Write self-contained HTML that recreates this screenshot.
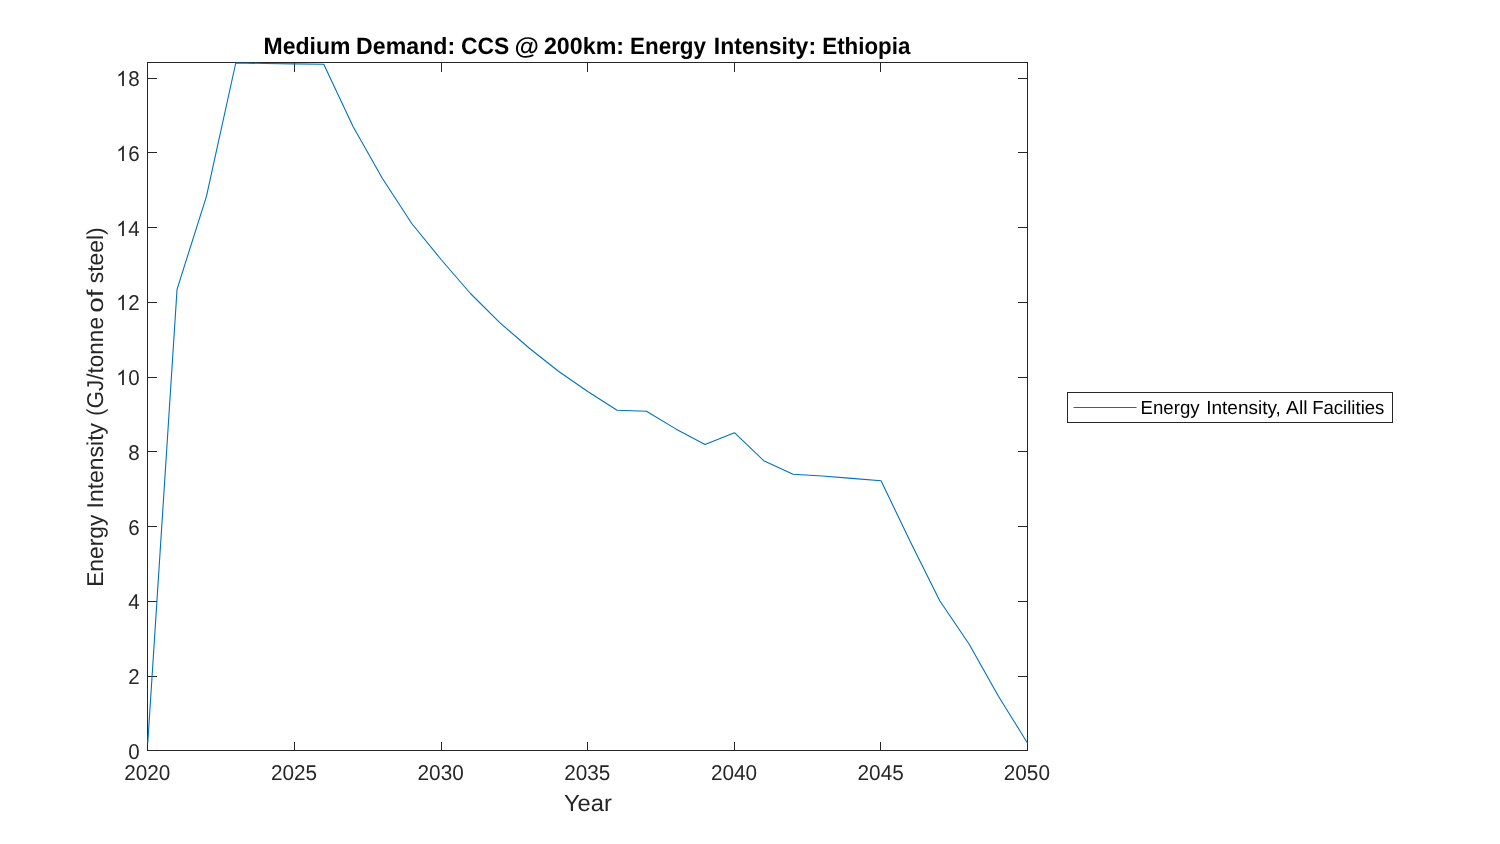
<!DOCTYPE html>
<html><head><meta charset="utf-8"><title>Energy Intensity</title>
<style>
html,body{margin:0;padding:0;background:#fff;}
body{width:1500px;height:844px;overflow:hidden;position:relative;font-family:"Liberation Sans",sans-serif;}
#fig{position:absolute;left:0;top:0;width:1500px;height:844px;will-change:transform;background:#fff;}
svg{position:absolute;left:0;top:0;display:block;}
text{font-family:"Liberation Sans",sans-serif;white-space:pre;text-rendering:geometricPrecision;}
</style></head><body>
<div id="fig">
<svg width="1500" height="844" viewBox="0 0 1500 844">
<rect x="0" y="0" width="1500" height="844" fill="#ffffff"/>
<!-- axes box and ticks -->
<g fill="#262626" shape-rendering="crispEdges">
<rect x="147" y="62" width="881" height="1"/><rect x="147" y="750" width="881" height="1"/><rect x="147" y="62" width="1" height="689"/><rect x="1027" y="62" width="1" height="689"/>
<rect x="294" y="742" width="1" height="8"/><rect x="294" y="63" width="1" height="9"/>
<rect x="441" y="742" width="1" height="8"/><rect x="441" y="63" width="1" height="9"/>
<rect x="587" y="742" width="1" height="8"/><rect x="587" y="63" width="1" height="9"/>
<rect x="734" y="742" width="1" height="8"/><rect x="734" y="63" width="1" height="9"/>
<rect x="880" y="742" width="1" height="8"/><rect x="880" y="63" width="1" height="9"/>
<rect x="148" y="676" width="9" height="1"/><rect x="1018" y="676" width="9" height="1"/>
<rect x="148" y="601" width="9" height="1"/><rect x="1018" y="601" width="9" height="1"/>
<rect x="148" y="526" width="9" height="1"/><rect x="1018" y="526" width="9" height="1"/>
<rect x="148" y="451" width="9" height="1"/><rect x="1018" y="451" width="9" height="1"/>
<rect x="148" y="377" width="9" height="1"/><rect x="1018" y="377" width="9" height="1"/>
<rect x="148" y="302" width="9" height="1"/><rect x="1018" y="302" width="9" height="1"/>
<rect x="148" y="227" width="9" height="1"/><rect x="1018" y="227" width="9" height="1"/>
<rect x="148" y="152" width="9" height="1"/><rect x="1018" y="152" width="9" height="1"/>
<rect x="148" y="78" width="9" height="1"/><rect x="1018" y="78" width="9" height="1"/>
</g>
<!-- data line -->
<clipPath id="ax"><rect x="147" y="62" width="881" height="689"/></clipPath>
<path clip-path="url(#ax)" d="M147.75 743.2 L177.05 289.3 L206.45 196.4 L235.75 63.0 L265.05 63.5 L294.45 63.9 L323.75 64.3 L353.05 126.4 L382.45 178.5 L411.75 223.5 L441.05 259.5 L470.45 293.5 L499.75 322.7 L529.05 348.0 L558.45 371.2 L587.75 391.5 L617.05 410.3 L646.45 411.3 L675.75 428.9 L705.05 444.4 L734.45 432.7 L763.75 460.7 L793.05 474.2 L822.45 476.0 L851.75 478.4 L881.05 480.8 L910.45 541.9 L939.75 600.7 L969.05 644.0 L998.45 696.2 L1027.60 743.3" fill="none" stroke="#0072BD" stroke-width="1.1" stroke-linejoin="round"/>
<!-- tick labels -->
<g>
<text transform="translate(124.21,780.00) scale(1.0375,1.0700)" text-anchor="start" font-size="20px" fill="#262626">2020</text>
<text transform="translate(270.88,780.00) scale(1.0375,1.0700)" text-anchor="start" font-size="20px" fill="#262626">2025</text>
<text transform="translate(417.55,780.00) scale(1.0375,1.0700)" text-anchor="start" font-size="20px" fill="#262626">2030</text>
<text transform="translate(564.21,780.00) scale(1.0375,1.0700)" text-anchor="start" font-size="20px" fill="#262626">2035</text>
<text transform="translate(710.88,780.00) scale(1.0375,1.0700)" text-anchor="start" font-size="20px" fill="#262626">2040</text>
<text transform="translate(857.55,780.00) scale(1.0375,1.0700)" text-anchor="start" font-size="20px" fill="#262626">2045</text>
<text transform="translate(1003.76,780.00) scale(1.0375,1.0700)" text-anchor="start" font-size="20px" fill="#262626">2050</text>
<text transform="translate(139.60,759.10) scale(1.0250,1.0700)" text-anchor="end" font-size="20px" fill="#262626">0</text>
<text transform="translate(139.60,684.10) scale(1.0250,1.0700)" text-anchor="end" font-size="20px" fill="#262626">2</text>
<text transform="translate(139.60,609.10) scale(1.0250,1.0700)" text-anchor="end" font-size="20px" fill="#262626">4</text>
<text transform="translate(139.60,535.10) scale(1.0250,1.0700)" text-anchor="end" font-size="20px" fill="#262626">6</text>
<text transform="translate(139.60,460.10) scale(1.0250,1.0700)" text-anchor="end" font-size="20px" fill="#262626">8</text>
<text transform="translate(139.60,385.10) scale(1.0250,1.0700)" text-anchor="end" font-size="20px" fill="#262626">0</text>
<path transform="translate(116.25,385.10) scale(0.010010,-0.010449)" d="M763 0H583V1147Q518 1085 412.5 1023T223 930V1104Q373 1174.5 485.5 1275T645 1470H763Z" fill="#262626"/>
<text transform="translate(139.60,310.10) scale(1.0250,1.0700)" text-anchor="end" font-size="20px" fill="#262626">2</text>
<path transform="translate(116.25,310.10) scale(0.010010,-0.010449)" d="M763 0H583V1147Q518 1085 412.5 1023T223 930V1104Q373 1174.5 485.5 1275T645 1470H763Z" fill="#262626"/>
<text transform="translate(139.60,236.10) scale(1.0250,1.0700)" text-anchor="end" font-size="20px" fill="#262626">4</text>
<path transform="translate(116.25,236.10) scale(0.010010,-0.010449)" d="M763 0H583V1147Q518 1085 412.5 1023T223 930V1104Q373 1174.5 485.5 1275T645 1470H763Z" fill="#262626"/>
<text transform="translate(139.60,161.10) scale(1.0250,1.0700)" text-anchor="end" font-size="20px" fill="#262626">6</text>
<path transform="translate(116.25,161.10) scale(0.010010,-0.010449)" d="M763 0H583V1147Q518 1085 412.5 1023T223 930V1104Q373 1174.5 485.5 1275T645 1470H763Z" fill="#262626"/>
<text transform="translate(139.60,86.10) scale(1.0250,1.0700)" text-anchor="end" font-size="20px" fill="#262626">8</text>
<path transform="translate(116.25,86.10) scale(0.010010,-0.010449)" d="M763 0H583V1147Q518 1085 412.5 1023T223 930V1104Q373 1174.5 485.5 1275T645 1470H763Z" fill="#262626"/>
</g>
<!-- axis labels, title -->
<text transform="translate(563.96,810.80) scale(1.0797,1.0600)" text-anchor="start" font-size="22px" fill="#262626">Year</text>
<text transform="translate(103.00,586.81) rotate(-90) scale(1.0343,1.0400)" text-anchor="start" font-size="22px" fill="#262626">Energy</text>
<text transform="translate(103.00,508.49) rotate(-90) scale(1.0441,1.0400)" text-anchor="start" font-size="22px" fill="#262626">Intensity</text>
<text transform="translate(103.00,416.01) rotate(-90) scale(1.0239,1.0400)" text-anchor="start" font-size="22px" fill="#262626">(GJ/tonne</text>
<text transform="translate(103.00,312.81) rotate(-90) scale(1.2743,1.0400)" text-anchor="start" font-size="22px" fill="#262626">of</text>
<text transform="translate(103.00,283.25) rotate(-90) scale(1.0396,1.0400)" text-anchor="start" font-size="22px" fill="#262626">steel)</text>
<text transform="translate(263.53,53.80) scale(1.0455,1.0750)" text-anchor="start" font-size="22px" font-weight="bold" fill="#000000">Medium</text>
<text transform="translate(356.12,53.80) scale(1.0519,1.0750)" text-anchor="start" font-size="22px" font-weight="bold" fill="#000000">Demand:</text>
<text transform="translate(460.99,53.80) scale(1.0391,1.0750)" text-anchor="start" font-size="22px" font-weight="bold" fill="#000000">CCS</text>
<text transform="translate(514.38,53.80) scale(1.1391,1.0750)" text-anchor="start" font-size="22px" font-weight="bold" fill="#000000">@</text>
<text transform="translate(543.91,53.80) scale(1.0575,1.0750)" text-anchor="start" font-size="22px" font-weight="bold" fill="#000000">200km:</text>
<text transform="translate(630.07,53.80) scale(1.0182,1.0750)" text-anchor="start" font-size="22px" font-weight="bold" fill="#000000">Energy</text>
<text transform="translate(713.83,53.80) scale(1.0454,1.0750)" text-anchor="start" font-size="22px" font-weight="bold" fill="#000000">Intensity:</text>
<text transform="translate(822.28,53.80) scale(1.0155,1.0750)" text-anchor="start" font-size="22px" font-weight="bold" fill="#000000">Ethiopia</text>
<!-- legend -->
<rect x="1067.5" y="392.5" width="325" height="30" fill="#ffffff" stroke="#262626" stroke-width="1" shape-rendering="crispEdges"/>
<line x1="1073.5" y1="407.5" x2="1136.5" y2="407.5" stroke="#0072BD" stroke-width="1.1"/>
<text transform="translate(1140.55,413.60) scale(1.0360,1.0550)" text-anchor="start" font-size="18px" fill="#000000">Energy</text>
<text transform="translate(1206.29,413.60) scale(1.0533,1.0550)" text-anchor="start" font-size="18px" fill="#000000">Intensity,</text>
<text transform="translate(1286.10,413.60) scale(1.0720,1.0550)" text-anchor="start" font-size="18px" fill="#000000">All</text>
<text transform="translate(1312.15,413.60) scale(1.0313,1.0550)" text-anchor="start" font-size="18px" fill="#000000">Facilities</text>
</svg>
</div>
</body></html>
